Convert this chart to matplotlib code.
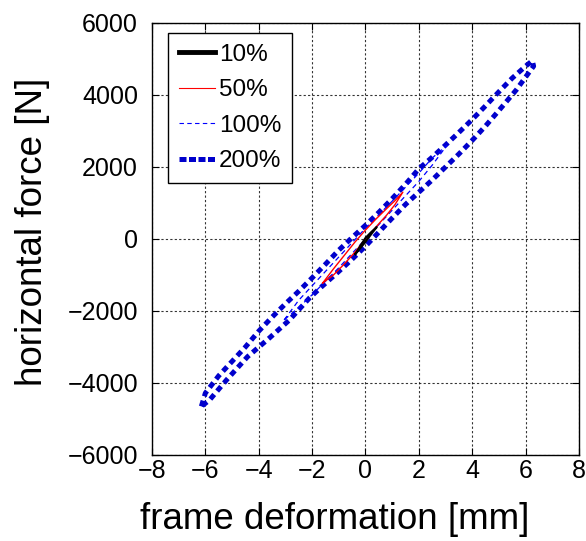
import matplotlib
matplotlib.use("Agg")
import matplotlib.pyplot as plt
from matplotlib.lines import Line2D

plt.rcParams['font.family'] = ['Liberation Sans', 'DejaVu Sans']

# hysteresis loops (deformation mm, force N)
x_10 = [-0.38, -0.2, 0.0, 0.2, 0.42, 0.2, 0.0, -0.2, -0.38]
y_10 = [-420, -200, 30, 180, 330, 120, -80, -260, -420]

x_50 = [-1.6, -1.2, -0.8, -0.4, 0.0, 0.4, 0.8, 1.1, 1.4,
        1.1, 0.8, 0.4, 0.0, -0.4, -0.8, -1.2, -1.6]
y_50 = [-1220, -830, -460, -90, 250, 560, 850, 1060, 1300,
        950, 670, 340, 0, -370, -700, -1000, -1220]

x_100 = [-3.05, -2.5, -2.0, -1.0, 0.0, 1.0, 2.0, 2.5, 3.05,
         2.5, 2.0, 1.0, 0.0, -1.0, -2.0, -2.5, -3.05]
y_100 = [-2250, -1700, -1300, -500, 300, 1050, 1830, 2250, 2600,
         2050, 1600, 800, 0, -800, -1550, -1900, -2250]

x_200 = [-6.15, -6.0, -5.5, -5.0, -4.5, -4.0, -3.5, -3.0, -2.5, -2.0, -1.5, -1.0,
         -0.5, 0.0, 0.5, 1.0, 1.5, 2.0, 2.5, 3.0, 3.5, 4.0, 4.5, 5.0, 5.5, 6.0, 6.25,
         6.3, 6.14, 5.65, 5.0, 4.5, 4.0, 3.5, 3.0, 2.5, 2.0, 1.5, 1.0, 0.5, 0.0,
         -0.5, -1.0, -1.65, -2.1, -2.85, -3.6, -4.42, -5.2, -5.84, -6.15]
y_200 = [-4650, -4280, -3800, -3400, -3000, -2560, -2170, -1800, -1450, -1080, -700, -310,
         40, 380, 740, 1120, 1520, 1950, 2270, 2610, 2960, 3320, 3700, 4090, 4470, 4800, 4950,
         4800, 4640, 4140, 3570, 3140, 2740, 2360, 2000, 1640, 1300, 960, 580, 190, -200,
         -560, -900, -1330, -1640, -2250, -2750, -3270, -3910, -4470, -4650]

labels = ['10%', '50%', '100%', '200%']

fig = plt.figure(figsize=(5.86, 5.41), dpi=100)
ax = fig.add_axes([0.2594, 0.159, 0.7286, 0.7985])

l200, = ax.plot(x_200, y_200, color='#0000cc', lw=3.6, dashes=(1.2, 0.9),
                dash_capstyle='butt', zorder=2)
l100, = ax.plot(x_100, y_100, color='#0000ff', lw=0.9, dashes=(4, 3), zorder=3)
l50, = ax.plot(x_50, y_50, color='red', lw=1.0, zorder=4)
l10, = ax.plot(x_10, y_10, color='black', lw=1.5, zorder=5)

handles = [
    Line2D([], [], color='black', lw=3.5),
    Line2D([], [], color='red', lw=0.8),
    Line2D([], [], color='#0000ff', lw=0.8, dashes=(4, 3)),
    Line2D([], [], color='#0000cc', lw=3.6, dashes=(1.4, 0.5)),
]
leg = ax.legend(handles, labels, loc='upper left', bbox_to_anchor=(0.037, 0.977),
                borderaxespad=0, fontsize=17.5, handlelength=1.5, handletextpad=0.15,
                borderpad=0.45, labelspacing=0.55, fancybox=False,
                framealpha=1, edgecolor='black')
leg.get_frame().set_linewidth(1.0)

ax.set_xlim(-8, 8)
ax.set_ylim(-6000, 6000)
ax.set_xticks(range(-8, 9, 2))
ax.set_yticks(range(-6000, 6001, 2000))
ax.tick_params(direction='in', top=True, right=True, labelsize=18, length=5)
ax.tick_params(axis='y', pad=10)
ax.tick_params(axis='x', pad=3)
ax.grid(True, color='black', linestyle=(0, (2, 2)), linewidth=0.8, alpha=0.8)
for s in ax.spines.values():
    s.set_linewidth(1.0)

ax.set_xlabel('frame deformation [mm]', fontsize=26.5)
ax.set_ylabel('horizontal force [N]', fontsize=26.5)
ax.xaxis.set_label_coords(0.428, -0.11)
ax.yaxis.set_label_coords(-0.239, 0.516)

fig.savefig('out.png', dpi=100)
